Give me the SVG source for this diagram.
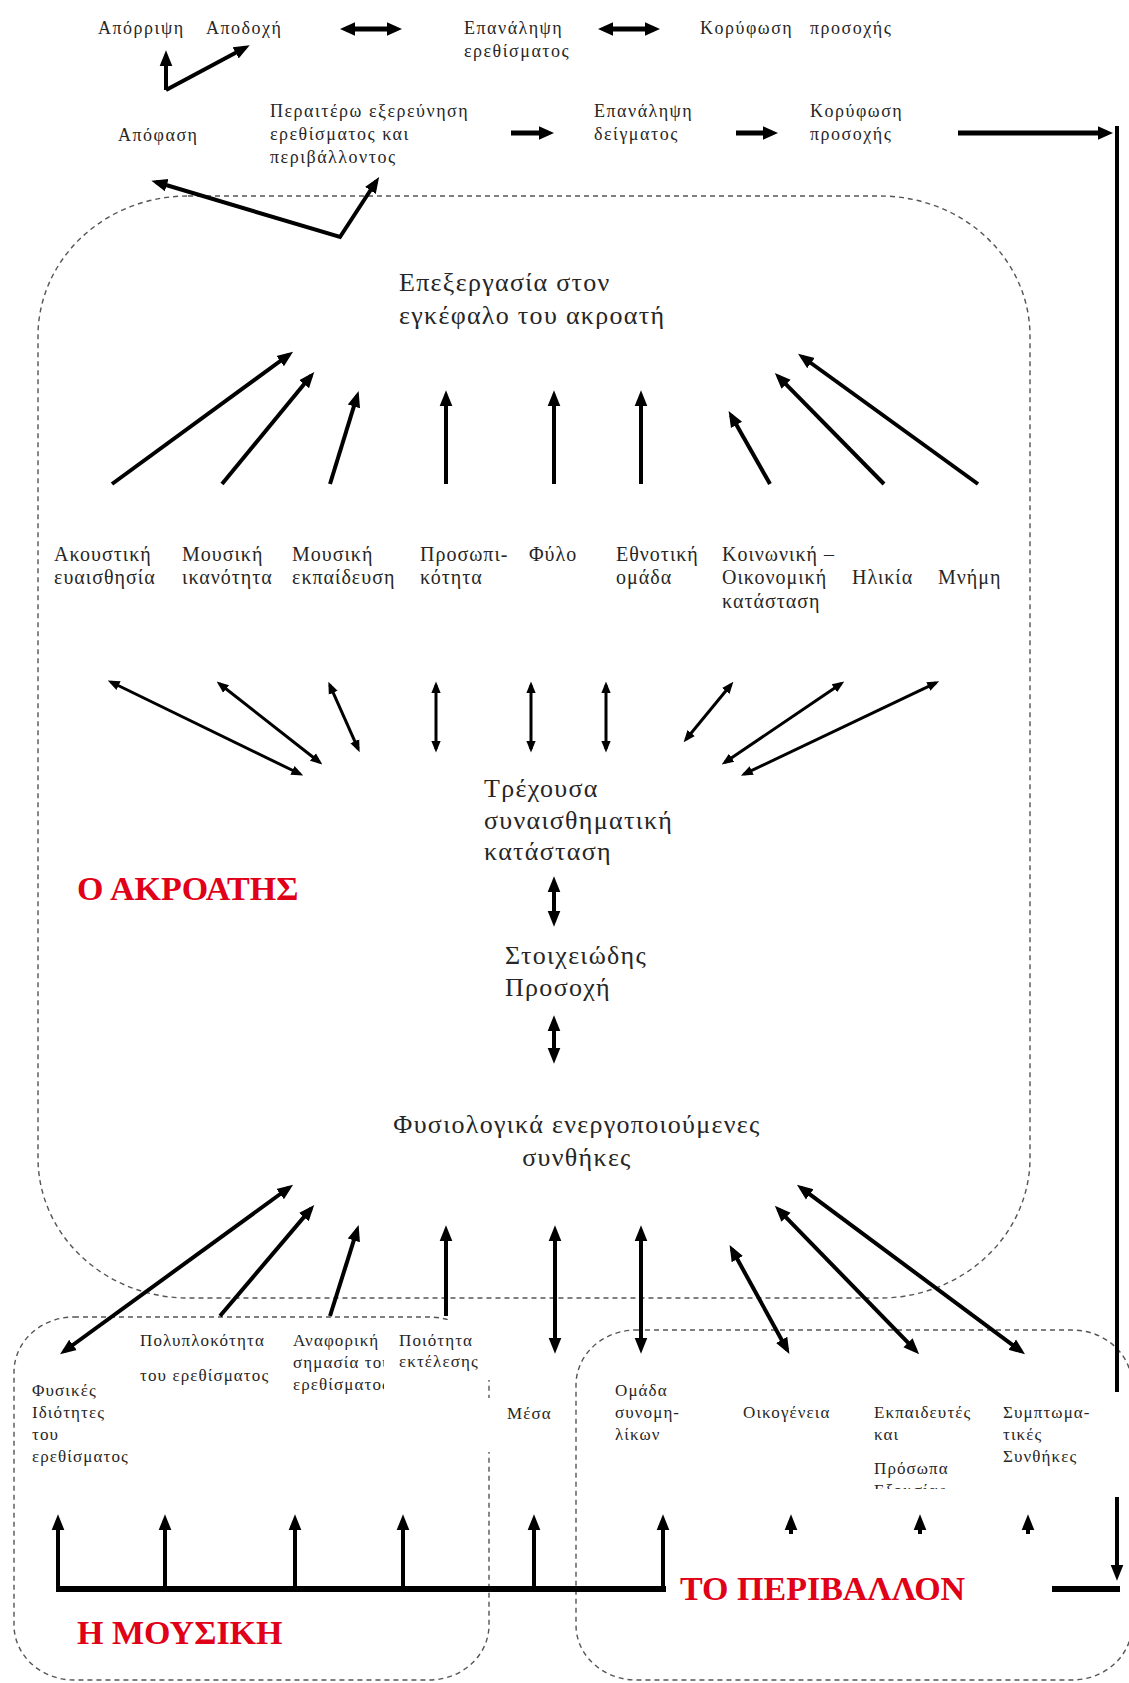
<svg xmlns="http://www.w3.org/2000/svg" width="1129" height="1683" viewBox="0 0 1129 1683">
<style>
text{font-family:"Liberation Serif","Times New Roman",serif;fill:#262626}
.s{font-size:18px;letter-spacing:1.5px}
.b{font-size:17px;letter-spacing:1.1px}
.m{font-size:20px;letter-spacing:1px}
.l{font-size:26px;letter-spacing:1.3px}
.red{font-size:34px;font-weight:bold;fill:#e00018}
.bg{fill:#fff;stroke:none}
.dash{fill:none;stroke:#555;stroke-width:1.4;stroke-dasharray:5 4}
.a4{stroke:#000;stroke-width:4;fill:none;marker-end:url(#ah)}
.d4{stroke:#000;stroke-width:4;fill:none;marker-end:url(#ah);marker-start:url(#ah)}
.d3{stroke:#000;stroke-width:3;fill:none;marker-end:url(#ah);marker-start:url(#ah)}
.t5{stroke:#000;stroke-width:5;fill:none;marker-end:url(#ahT)}
.td5{stroke:#000;stroke-width:5;fill:none;marker-end:url(#ahT);marker-start:url(#ahT)}
.bar{stroke:#000;stroke-width:6;fill:none}
</style>
<defs>
<marker id="ah" viewBox="0 0 10 10" refX="7" refY="5" markerWidth="4" markerHeight="4" orient="auto-start-reverse" markerUnits="strokeWidth"><path d="M0,1 L10,5 L0,9 z" fill="#000"/></marker>
<marker id="ahT" viewBox="0 0 10 10" refX="6" refY="5" markerWidth="3" markerHeight="3" orient="auto-start-reverse" markerUnits="strokeWidth"><path d="M0,0.5 L10,5 L0,9.5 z" fill="#000"/></marker>
<clipPath id="clipA"><rect x="280" y="1320" width="104" height="90"/></clipPath>
<clipPath id="clipE"><rect x="860" y="1390" width="130" height="99"/></clipPath>
</defs>

<g id="boxes">
<rect id="listener-box" class="dash" x="38" y="196" width="992" height="1102" rx="150" ry="140"/>
<rect id="music-box" class="dash" x="14" y="1317" width="475" height="363" rx="60" ry="55"/>
<rect id="env-box" class="dash" x="576" y="1330" width="556" height="350" rx="60" ry="55"/>
</g>

<g id="connectors">
<!-- top row -->
<line class="td5" x1="346" y1="29" x2="396" y2="29"/>
<line class="td5" x1="604" y1="29" x2="654" y2="29"/>
<line class="a4" x1="166" y1="90" x2="166" y2="55"/>
<line class="a4" x1="166" y1="90" x2="245.5" y2="47.5"/>
<line class="t5" x1="511" y1="133" x2="548" y2="133"/>
<line class="t5" x1="736" y1="133" x2="772" y2="133"/>
<line class="t5" x1="958" y1="133" x2="1107" y2="133"/>
<path class="d4" d="M156,182 L340,237 L376.5,181"/>
<!-- right feedback line -->
<line stroke="#000" stroke-width="4" x1="1117" y1="126" x2="1117" y2="1392"/>
<line class="a4" x1="1117" y1="1497" x2="1117" y2="1576"/>
<line class="bar" x1="1052" y1="1589" x2="1120" y2="1589"/>
<!-- to Επεξεργασία -->
<line class="a4" x1="112" y1="484" x2="289.2" y2="354.5"/>
<line class="a4" x1="222" y1="484" x2="311.2" y2="375.6"/>
<line class="a4" x1="330" y1="484" x2="357.2" y2="395.7"/>
<line class="a4" x1="446" y1="484" x2="446" y2="395"/>
<line class="a4" x1="554" y1="484" x2="554" y2="395"/>
<line class="a4" x1="641" y1="484" x2="641" y2="395"/>
<line class="a4" x1="770" y1="484" x2="731" y2="415.2"/>
<line class="a4" x1="884" y1="484" x2="778.2" y2="376.3"/>
<line class="a4" x1="978" y1="484" x2="801.9" y2="356.5"/>
<!-- to Τρέχουσα -->
<line class="d3" x1="111" y1="682" x2="300" y2="774"/>
<line class="d3" x1="219.5" y1="683.8" x2="319.5" y2="762.2"/>
<line class="d3" x1="329.8" y1="685.1" x2="358.2" y2="748.9"/>
<line class="d3" x1="436" y1="685" x2="436" y2="749"/>
<line class="d3" x1="531" y1="685" x2="531" y2="749"/>
<line class="d3" x1="606" y1="685" x2="606" y2="749"/>
<line class="d3" x1="731.1" y1="684.5" x2="685.9" y2="739.5"/>
<line class="d3" x1="841.3" y1="683.5" x2="724.7" y2="762.5"/>
<line class="d3" x1="935.9" y1="682.9" x2="744.1" y2="774.1"/>
<!-- central chain -->
<line class="d4" x1="554" y1="881" x2="554" y2="922"/>
<line class="d4" x1="554" y1="1020" x2="554" y2="1059"/>
<!-- to Φυσιολογικά -->
<line class="d4" x1="63.9" y1="1351.5" x2="289.2" y2="1187.5"/>
<line class="a4" x1="220" y1="1316" x2="311.1" y2="1208.6"/>
<line class="a4" x1="330" y1="1316" x2="357.2" y2="1229.7"/>
<line class="a4" x1="446" y1="1316" x2="446" y2="1230"/>
<line class="d4" x1="555" y1="1349" x2="555" y2="1230"/>
<line class="d4" x1="641" y1="1349" x2="641" y2="1230"/>
<line class="d4" x1="787.1" y1="1349.7" x2="731.9" y2="1249.3"/>
<line class="d4" x1="915.8" y1="1350.7" x2="778.2" y2="1209.3"/>
<line class="d4" x1="1021.2" y1="1351.4" x2="800.8" y2="1187.6"/>
<!-- bottom bar -->
<line class="bar" x1="56" y1="1589" x2="666" y2="1589"/>
<line class="a4" x1="58" y1="1591" x2="58" y2="1519"/>
<line class="a4" x1="165" y1="1589" x2="165" y2="1519"/>
<line class="a4" x1="295" y1="1589" x2="295" y2="1519"/>
<line class="a4" x1="403" y1="1589" x2="403" y2="1519"/>
<line class="a4" x1="534" y1="1589" x2="534" y2="1519"/>
<line class="a4" x1="663" y1="1591" x2="663" y2="1519"/>
<line class="a4" x1="791" y1="1534" x2="791" y2="1519"/>
<line class="a4" x1="920" y1="1534" x2="920" y2="1519"/>
<line class="a4" x1="1028" y1="1534" x2="1028" y2="1519"/>
</g>

<g id="n-aporripsi"><text class="s" x="98" y="34">Απόρριψη</text></g>
<g id="n-apodochi"><text class="s" x="206" y="34">Αποδοχή</text></g>
<g id="n-epanalipsi-erethismatos"><text class="s" x="464" y="34">Επανάληψη</text><text class="s" x="464" y="57">ερεθίσματος</text></g>
<g id="n-koryfosi1"><text class="s" x="700" y="34">Κορύφωση <tspan x="810">προσοχής</tspan></text></g>
<g id="n-apofasi"><text class="s" x="118" y="141">Απόφαση</text></g>
<g id="n-peraitero"><text class="s" x="270" y="117">Περαιτέρω εξερεύνηση</text><text class="s" x="270" y="140">ερεθίσματος και</text><text class="s" x="270" y="163">περιβάλλοντος</text></g>
<g id="n-epanalipsi-deigmatos"><text class="s" x="594" y="117">Επανάληψη</text><text class="s" x="594" y="140">δείγματος</text></g>
<g id="n-koryfosi2"><text class="s" x="810" y="117">Κορύφωση</text><text class="s" x="810" y="140">προσοχής</text></g>

<g id="n-epexergasia"><text class="l" x="399" y="291">Επεξεργασία στον</text><text class="l" x="399" y="324">εγκέφαλο του ακροατή</text></g>

<g id="n-akoustiki"><text class="m" x="54" y="561">Ακουστική</text><text class="m" x="54" y="584">ευαισθησία</text></g>
<g id="n-mous-ikanotita"><text class="m" x="182" y="561">Μουσική</text><text class="m" x="182" y="584">ικανότητα</text></g>
<g id="n-mous-ekpaideusi"><text class="m" x="292" y="561">Μουσική</text><text class="m" x="292" y="584">εκπαίδευση</text></g>
<g id="n-prosopikotita"><text class="m" x="420" y="561">Προσωπι-</text><text class="m" x="420" y="584">κότητα</text></g>
<g id="n-fylo"><text class="m" x="529" y="561">Φύλο</text></g>
<g id="n-ethnotiki"><text class="m" x="616" y="561">Εθνοτική</text><text class="m" x="616" y="584">ομάδα</text></g>
<g id="n-koinoniki"><text class="m" x="722" y="561">Κοινωνική –</text><text class="m" x="722" y="584">Οικονομική</text><text class="m" x="722" y="608">κατάσταση</text></g>
<g id="n-ilikia"><text class="m" x="852" y="584">Ηλικία</text></g>
<g id="n-mnimi"><text class="m" x="938" y="584">Μνήμη</text></g>

<g id="n-trexousa"><text class="l" x="484" y="797">Τρέχουσα</text><text class="l" x="484" y="829">συναισθηματική</text><text class="l" x="484" y="860">κατάσταση</text></g>
<g id="n-akroatis"><text class="red" x="77" y="900">Ο ΑΚΡΟΑΤΗΣ</text></g>
<g id="n-stoixeiodis"><text class="l" x="505" y="964">Στοιχειώδης</text><text class="l" x="505" y="996">Προσοχή</text></g>
<g id="n-fysiologika"><text class="l" x="577" y="1133" text-anchor="middle">Φυσιολογικά ενεργοποιούμενες</text><text class="l" x="577" y="1166" text-anchor="middle">συνθήκες</text></g>

<g id="n-fysikes"><text class="b" x="32" y="1396">Φυσικές</text><text class="b" x="32" y="1418">Ιδιότητες</text><text class="b" x="32" y="1440">του</text><text class="b" x="32" y="1462">ερεθίσματος</text></g>
<g id="n-polyplokotita"><text class="b" x="140" y="1346">Πολυπλοκότητα</text><text class="b" x="140" y="1381">του ερεθίσματος</text></g>
<g id="n-anaforiki" clip-path="url(#clipA)"><text class="b" x="293" y="1346">Αναφορική</text><text class="b" x="293" y="1368">σημασία του</text><text class="b" x="293" y="1390">ερεθίσματος</text></g>
<g id="n-poiotita"><rect class="bg" x="392" y="1320" width="100" height="60"/><text class="b" x="399" y="1346">Ποιότητα</text><text class="b" x="399" y="1367">εκτέλεσης</text></g>
<g id="n-mesa"><rect class="bg" x="484" y="1398" width="74" height="54"/><text class="b" x="507" y="1419">Μέσα</text></g>
<g id="n-omada"><text class="b" x="615" y="1396">Ομάδα</text><text class="b" x="615" y="1418">συνομη-</text><text class="b" x="615" y="1440">λίκων</text></g>
<g id="n-oikogeneia"><text class="b" x="743" y="1418">Οικογένεια</text></g>
<g id="n-ekpaideutes" clip-path="url(#clipE)"><text class="b" x="874" y="1418">Εκπαιδευτές</text><text class="b" x="874" y="1440">και</text><text class="b" x="874" y="1474">Πρόσωπα</text><text class="b" x="874" y="1496">Εξουσίας</text></g>
<g id="n-symptomatikes"><text class="b" x="1003" y="1418">Συμπτωμα-</text><text class="b" x="1003" y="1440">τικές</text><text class="b" x="1003" y="1462">Συνθήκες</text></g>

<g id="n-mousiki"><text class="red" x="77" y="1644">Η ΜΟΥΣΙΚΗ</text></g>
<g id="n-perivallon"><text class="red" x="680" y="1600">ΤΟ ΠΕΡΙΒΑΛΛΟΝ</text></g>
</svg>
